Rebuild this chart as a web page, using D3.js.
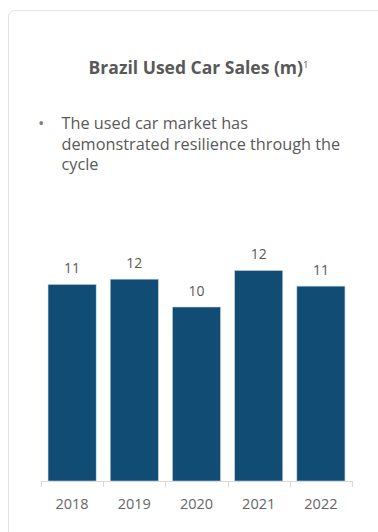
<!DOCTYPE html>
<html>
<head>
<meta charset="utf-8">
<script src="https://cdn.jsdelivr.net/npm/d3@7/dist/d3.min.js"></script>
<style>
  html, body { margin: 0; padding: 0; background: #fff; }
  svg { display: block; }
</style>
</head>
<body>
<script>
const years = ["2018", "2019", "2020", "2021", "2022"];
const sales = [11.3, 11.6, 10.0, 12.1, 11.2];
const title = "Brazil Used Car Sales (m)";
const footnoteMark = "1";
const bulletLines = ["The used car market has", "demonstrated resilience through the", "cycle"];

const W = 378, H = 532;
const font = "'Open Sans', 'Noto Sans', sans-serif";

const svg = d3.select("body").append("svg")
  .attr("width", W).attr("height", H);

// card panel
svg.append("rect")
  .attr("x", 8.5).attr("y", 10.5)
  .attr("width", W + 20).attr("height", H + 20)
  .attr("rx", 6).attr("ry", 6)
  .attr("fill", "#fff")
  .attr("stroke", "#e2e2e2")
  .attr("stroke-width", 1);

// title with footnote superscript
const t = svg.append("text")
  .attr("x", 198.5).attr("y", 74)
  .attr("text-anchor", "middle")
  .attr("font-family", font)
  .attr("font-size", 17.5)
  .attr("font-weight", 700)
  .attr("fill", "#595959");
t.append("tspan").text(title);
t.append("tspan").attr("font-size", 9.5).attr("font-weight", 400).attr("dy", -6).text(footnoteMark);

// bullet commentary
svg.append("text")
  .attr("x", 38).attr("y", 129)
  .attr("font-family", font).attr("font-size", 17)
  .attr("fill", "#7f7f7f")
  .text("•");
const bt = svg.append("text")
  .attr("font-family", font).attr("font-size", 16.3)
  .attr("fill", "#595959");
bt.selectAll("tspan").data(bulletLines).join("tspan")
  .attr("x", 61.5)
  .attr("y", (d, i) => 129 + i * 20.5)
  .text(d => d);

// chart
const x = d3.scaleBand().domain(years).range([41, 352]).paddingInner(0.226).paddingOuter(0.113);
const y = d3.scaleLinear().domain([0, 10]).range([481, 307]);

svg.append("g").selectAll("rect").data(years).join("rect")
  .attr("x", d => x(d))
  .attr("width", x.bandwidth())
  .attr("y", (d, i) => y(sales[i]))
  .attr("height", (d, i) => y(0) - y(sales[i]))
  .attr("fill", "#114c75")
  .attr("stroke", "#c9d7e3")
  .attr("stroke-width", 0.6);

svg.append("g").selectAll("text").data(years).join("text")
  .attr("x", d => x(d) + x.bandwidth() / 2)
  .attr("y", (d, i) => y(sales[i]) - 11)
  .attr("text-anchor", "middle")
  .attr("font-family", font).attr("font-size", 14)
  .attr("fill", "#595959")
  .text((d, i) => d3.format(".0f")(sales[i]));

// category axis with boundary ticks
const axisG = svg.append("g").attr("transform", `translate(0,${y(0)})`);
const xr = x.range();
const bounds = years.map((d, i) => xr[0] + i * (xr[1] - xr[0]) / years.length).concat([xr[1]]);
axisG.append("line")
  .attr("x1", xr[0]).attr("x2", xr[1]).attr("y1", 0.5).attr("y2", 0.5)
  .attr("stroke", "#d9d9d9");
axisG.selectAll("line.tick").data(bounds).join("line")
  .attr("class", "tick")
  .attr("x1", d => Math.round(d) + 0.5).attr("x2", d => Math.round(d) + 0.5)
  .attr("y1", 0).attr("y2", 6)
  .attr("stroke", "#d9d9d9");
axisG.selectAll("text").data(years).join("text")
  .attr("x", d => x(d) + x.bandwidth() / 2)
  .attr("y", 28)
  .attr("text-anchor", "middle")
  .attr("font-family", font).attr("font-size", 14.5)
  .attr("fill", "#666")
  .text(d => d);
</script>
</body>
</html>
